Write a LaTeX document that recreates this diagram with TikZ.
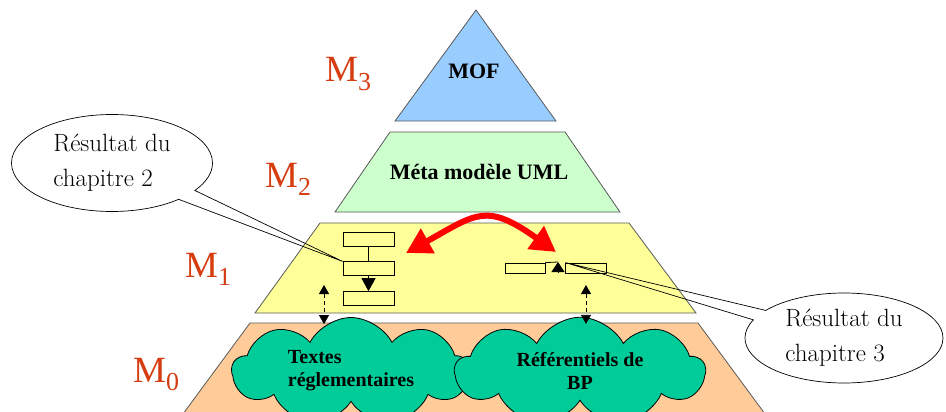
\documentclass[tikz,border=0pt]{standalone}
\usepackage{fontspec}
\newfontfamily\timesfont{Liberation Serif}
\usetikzlibrary{positioning,arrows.meta,shapes.symbols,shapes.callouts}
\definecolor{mofblue}{RGB}{153,204,255}
\definecolor{umlgreen}{RGB}{204,255,204}
\definecolor{modelyellow}{RGB}{255,255,153}
\definecolor{datapeach}{RGB}{255,204,153}
\definecolor{cloudgreen}{RGB}{0,204,153}
\definecolor{levelred}{RGB}{214,60,16}

\begin{document}
\begin{tikzpicture}[
  x=1pt, y=-1pt,
  layer/.style={draw=black!65, line width=0.8pt},
  level/.style={anchor=base west, text=levelred, inner sep=0pt,
                font=\timesfont\fontsize{37}{37}\selectfont},
  layertxt/.style={font=\timesfont\bfseries\fontsize{22}{26}\selectfont},
  source/.style={cloud, cloud puffs=9, cloud puff arc=125, aspect=2.4,
                 draw=black, line width=0.8pt, fill=cloudgreen,
                 minimum width=238pt, minimum height=102pt, inner sep=0pt,
                 font=\timesfont\bfseries\fontsize{20}{23}\selectfont},
  umlbox/.style={draw, line width=0.8pt, minimum width=51pt,
                 minimum height=14pt, inner sep=0pt},
  note/.style={ellipse callout, draw, line width=0.7pt, align=left,
               inner sep=0pt, callout pointer arc=14,
               font=\fontsize{25}{35}\selectfont},
  link/.style={{Triangle[length=25pt,width=27pt]}-{Triangle[length=25pt,width=27pt]},
               red, line width=6pt},
  trace/.style={{Triangle[length=9pt,width=10pt]}-{Triangle[length=9pt,width=10pt]},
                dash pattern=on 4pt off 3pt, line width=0.8pt},
  flow/.style={-{Triangle[length=13pt,width=14pt]}, line width=0.8pt},
]
  \useasboundingbox (0,0) rectangle (946,412);

  % the four levels
  \filldraw[layer, fill=mofblue] (476,10) -- (556,121) -- (395,121) -- cycle;
  \filldraw[layer, fill=umlgreen] (390,132) -- (565,132) -- (620,212) -- (335,212) -- cycle;
  \filldraw[layer, fill=modelyellow] (320,223) -- (629,223) -- (696,313) -- (255,313) -- cycle;
  \filldraw[layer, fill=datapeach] (250,323) -- (698,323) -- (768,418) -- (180,418) -- cycle;

  \node[layertxt] (mof) at (474,71) {MOF};
  \node[layertxt] (uml) at (479,172) {Méta modèle UML};

  \node[level] (m3) at (325,82) {M\textsubscript{3}};
  \node[level] (m2) at (265,187) {M\textsubscript{2}};
  \node[level] (m1) at (185,277) {M\textsubscript{1}};
  \node[level] (m0) at (133,382) {M\textsubscript{0}};

  % sources
  \node[source, align=left] (texts) at (351,371) {Textes\\réglementaires};
  \node[source, align=center, minimum width=250pt] (refs) at (580,371)
    {Référentiels de\\BP};

  % models in M1
  \node[umlbox] (clsa) at (368.5,239) {};
  \node[umlbox, below=15pt of clsa] (clsb) {};
  \node[umlbox, below=15pt of clsb] (clsc) {};
  \draw[line width=0.8pt] (clsa) -- (clsb);
  \draw[flow] (clsb) -- (clsc);

  \node[umlbox, minimum width=40pt, minimum height=10pt] (bpa) at (525,268) {};
  \node[umlbox, minimum width=41pt, minimum height=10pt, right=20pt of bpa] (bpb) {};
  \coordinate (bptip) at (558,262);
  \draw[line width=0.8pt] (bpa.north east) -- (bptip);
  \draw[flow, -{Triangle[length=10pt,width=13pt]}] ([yshift=-10pt]bptip) -- (bptip);

  \coordinate (linkl) at (406,253);
  \coordinate (linkr) at (556,252);
  \draw[link] (linkl) .. controls (476,214) and (486,202) .. (linkr);

  \coordinate (tracel) at (324,285);
  \coordinate (tracer) at (586,285);
  \draw[trace] (tracel) -- ([yshift=-7pt]tracel |- texts.north);
  \draw[trace] (tracer) -- ([yshift=-7pt]tracer |- refs.north);

  % notes
  \node[note, minimum width=201pt, minimum height=97pt,
        callout absolute pointer={(clsb.north west)}] (notetwo) at (112,163)
    {Résultat du\\chapitre 2};
  \node[note, minimum width=198pt, minimum height=90pt,
        callout absolute pointer={(bpb.north west)}] (notethree) at (844,338)
    {Résultat du\\chapitre 3};
\end{tikzpicture}
\end{document}
